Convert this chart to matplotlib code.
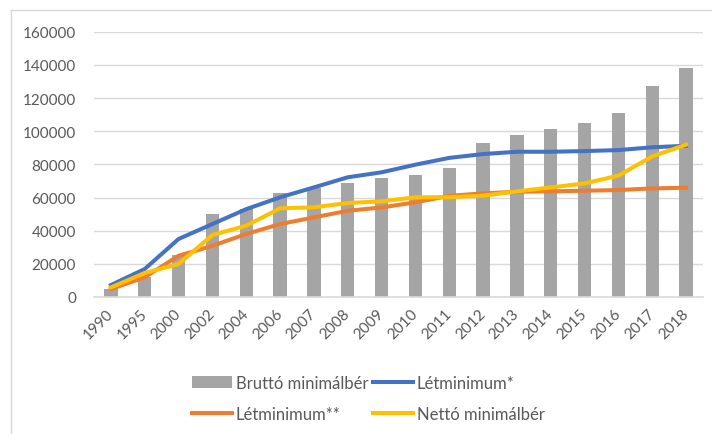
import matplotlib.pyplot as plt
from matplotlib.lines import Line2D
import numpy as np

years = ['1990', '1995', '2000', '2002', '2004', '2006', '2007', '2008', '2009',
         '2010', '2011', '2012', '2013', '2014', '2015', '2016', '2017', '2018']
brutto = [4800, 12200, 25500, 50000, 53000, 62500, 65500, 69000, 71500,
          73500, 78000, 93000, 98000, 101500, 105000, 111000, 127500, 138000]
letmin1 = [7200, 16900, 35000, 44000, 53000, 60100, 66100, 72200, 75200,
           79800, 83900, 86200, 87600, 87600, 88000, 88600, 90300, 91200]
letmin2 = [4800, 11900, 24900, 30900, 38000, 44000, 48000, 52000, 54000,
           57100, 61000, 62500, 63500, 63700, 64100, 64500, 65500, 65900]
netto = [5800, 14500, 19900, 37400, 43000, 53500, 54100, 56700, 57700,
         60100, 60200, 61100, 63700, 66100, 68500, 73200, 84800, 91900]

grey_txt = '#595959'
plt.rcParams['font.family'] = ['Lato', 'DejaVu Sans']

fig = plt.figure(figsize=(7.12, 4.35), dpi=100)
ax = fig.add_axes([94 / 712, 1 - 298 / 435, (703 - 94) / 712, (298 - 32.7) / 435])

x = np.arange(len(years))
bars = ax.bar(x, brutto, width=0.39, color='#a5a5a5', zorder=2, label='Bruttó minimálbér')
l1, = ax.plot(x, letmin1, color='#4472c4', lw=2.9, zorder=3, label='Létminimum*')
l2, = ax.plot(x, letmin2, color='#ed7d31', lw=2.9, zorder=4, label='Létminimum**')
l3, = ax.plot(x, netto, color='#ffc000', lw=2.9, zorder=5, label='Nettó minimálbér')

ax.set_xlim(-0.5, len(years) - 0.5)
ax.set_ylim(0, 160000)
ax.set_yticks(range(0, 160001, 20000))
ax.set_xticks(x)
ax.set_xticklabels(years, rotation=45, ha='right', va='center', rotation_mode='anchor')
ax.tick_params(axis='both', length=0, labelsize=11, colors=grey_txt)
ax.tick_params(axis='y', pad=13)
ax.tick_params(axis='x', pad=10)
ax.grid(axis='y', color='#d9d9d9', lw=1, zorder=0)
for s in ['top', 'right', 'left']:
    ax.spines[s].set_visible(False)
ax.spines['bottom'].set_color('#d9d9d9')
ax.spines['bottom'].set_linewidth(1.2)

fig.legend([bars, l2, l1, l3],
           ['Bruttó minimálbér', 'Létminimum**', 'Létminimum*', 'Nettó minimálbér'],
           ncol=2, loc='upper left', bbox_to_anchor=(192 / 712, 1 - 376 / 435),
           frameon=False, fontsize=12, labelcolor=grey_txt, borderpad=0,
           borderaxespad=0, handlelength=2.4, handletextpad=0.22,
           columnspacing=0.3, labelspacing=0.9)

# chart area border (cropped on the right and bottom)
fig.add_artist(Line2D([10.5 / 712, 10.5 / 712], [0, 1 - 10.5 / 435], color='#d9d9d9', lw=1))
fig.add_artist(Line2D([10.5 / 712, 1], [1 - 10.5 / 435, 1 - 10.5 / 435], color='#d9d9d9', lw=1))

fig.savefig('out.png', dpi=100)
